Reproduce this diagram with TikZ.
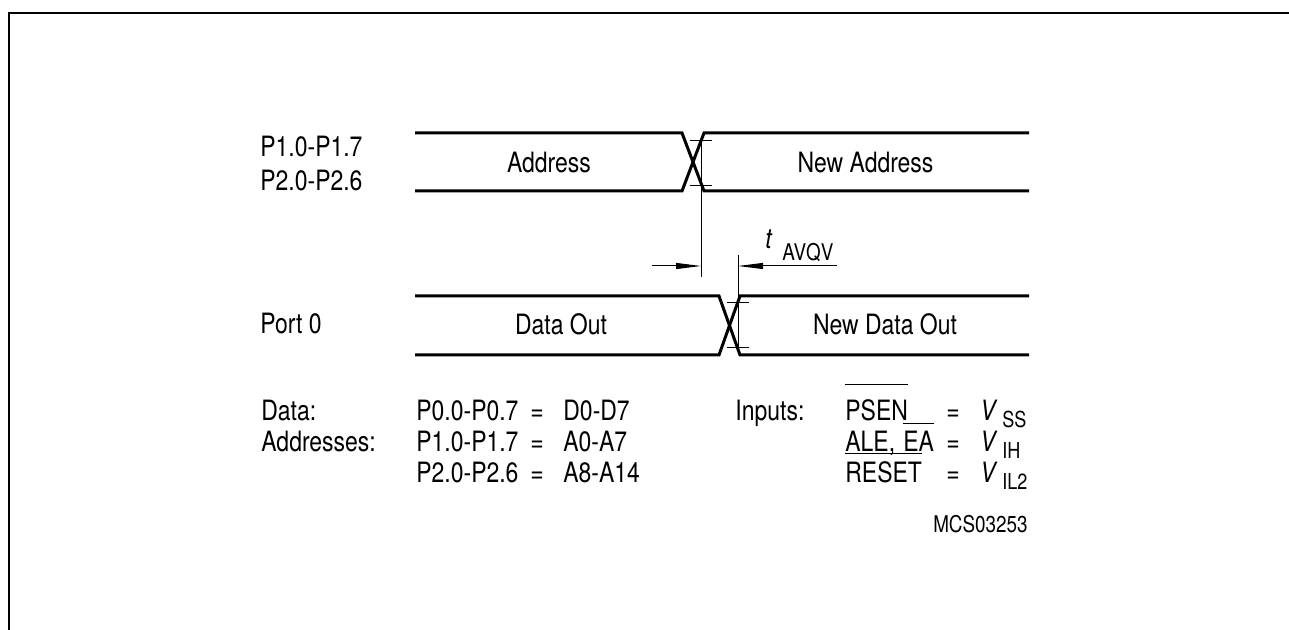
\documentclass[tikz,border=0pt]{standalone}
\usepackage{fontspec}
\setmainfont[FakeStretch=0.82]{TeX Gyre Heros}
\usetikzlibrary{arrows.meta}
\begin{document}
\begin{tikzpicture}[x=0.5pt,y=-0.5pt,
  bus/.style={line width=1.5pt, line join=miter},
  thinl/.style={line width=0.5pt},
  lbl/.style={inner sep=0pt, font=\fontsize{14}{16}\selectfont},
  sml/.style={inner sep=0pt, font=\fontsize{11.5}{13}\selectfont},
  sub/.style={inner sep=0pt, font=\fontsize{11}{13}\selectfont},
  dimarrow/.style={thinl, -{Triangle[length=12.5pt,width=3pt]}}]
\useasboundingbox (0,0) rectangle (1289,630);
% frame
\coordinate (fbl) at (8.5,630);
\coordinate (ftl) at (8.5,13.5);
\coordinate (ftr) at (1289,13.5);
\draw[line width=1pt] (fbl) -- (ftl) -- (ftr);

% bus 1 (P1/P2)
\coordinate (b1tl) at (415,133);  \coordinate (b1bl) at (415,191);
\coordinate (b1xt) at (682,133);  \coordinate (b1xb) at (682,191);
\coordinate (b1yt) at (704,133);  \coordinate (b1yb) at (704,191);
\coordinate (b1tr) at (1029,133); \coordinate (b1br) at (1029,191);
\draw[bus] (b1tl) -- (b1xt) -- (b1yb) -- (b1br);
\draw[bus] (b1bl) -- (b1xb) -- (b1yt) -- (b1tr);

% bus 2 (Port 0)
\coordinate (b2tl) at (415,296);  \coordinate (b2bl) at (415,355);
\coordinate (b2xt) at (719,296);  \coordinate (b2xb) at (719,355);
\coordinate (b2yt) at (740,296);  \coordinate (b2yb) at (740,355);
\coordinate (b2tr) at (1029,296); \coordinate (b2br) at (1029,355);
\draw[bus] (b2tl) -- (b2xt) -- (b2yb) -- (b2br);
\draw[bus] (b2bl) -- (b2xb) -- (b2yt) -- (b2tr);

% level ticks
\coordinate (t1a) at (690,140.5); \coordinate (t1b) at (712,140.5);
\coordinate (t2a) at (690,185.5); \coordinate (t2b) at (712,185.5);
\coordinate (t3a) at (727,302.5); \coordinate (t3b) at (749,302.5);
\coordinate (t4a) at (727,348);   \coordinate (t4b) at (749,348);
\draw[thinl] (t1a) -- (t1b);
\draw[thinl] (t2a) -- (t2b);
\draw[thinl] (t3a) -- (t3b);
\draw[thinl] (t4a) -- (t4b);

% reference verticals
\coordinate (v1t) at (701,140.5); \coordinate (v1b) at (701,277);
\coordinate (v2t) at (738,255);   \coordinate (v2b) at (738,348);
\draw[thinl] (v1t) -- (v1b);
\draw[thinl] (v2t) -- (v2b);

% dimension arrows
\coordinate (al) at (651.5,266); \coordinate (alt) at (701,266);
\coordinate (ar) at (837,266);   \coordinate (art) at (738,266);
\draw[dimarrow] (al) -- (alt);
\draw[dimarrow] (ar) -- (art);

% signal labels
\node[lbl, anchor=base west] (lp1) at (260,157) {P1.0-P1.7};
\node[lbl, anchor=base west] (lp2) at (260,191) {P2.0-P2.6};
\node[lbl, anchor=base west] (lp0) at (260,334) {Port 0};
\node[lbl, anchor=base] (addr) at (549,173) {Address};
\node[lbl, anchor=base] (naddr) at (865.5,173) {New Address};
\node[lbl, anchor=base] (dout) at (561,335) {Data Out};
\node[lbl, anchor=base] (ndout) at (885,335) {New Data Out};
\node[lbl, anchor=base west] (tt) at (765,249) {\itshape t};
\node[sml, anchor=base west] (tsub) at (782,261) {AVQV};

% legend left
\node[lbl, anchor=base west] (ldata) at (261,420) {Data:};
\node[lbl, anchor=base west] (laddr) at (261,451) {Addresses:};
\node[lbl, anchor=base west] (r1a) at (416,420) {P0.0-P0.7};
\node[lbl, anchor=base] (r1e) at (537,420) {=};
\node[lbl, anchor=base west] (r1b) at (563,420) {D0-D7};
\node[lbl, anchor=base west] (r2a) at (416,451) {P1.0-P1.7};
\node[lbl, anchor=base] (r2e) at (537,451) {=};
\node[lbl, anchor=base west] (r2b) at (563,451) {A0-A7};
\node[lbl, anchor=base west] (r3a) at (416,482) {P2.0-P2.6};
\node[lbl, anchor=base] (r3e) at (537,482) {=};
\node[lbl, anchor=base west] (r3b) at (563,482) {A8-A14};

% legend right
\node[lbl, anchor=base west] (linp) at (735,420) {Inputs:};
\node[lbl, anchor=base west] (s1a) at (845,420) {PSEN};
\node[lbl, anchor=base] (s1e) at (953,420) {=};
\node[lbl, anchor=base west] (s1v) at (980,420) {\itshape V};
\node[sub, anchor=base west] (s1s) at (1002,427) {SS};
\node[lbl, anchor=base west] (s2a) at (845,451) {ALE,};
\node[lbl, anchor=base west] (s2b) at (903,451) {EA};
\node[lbl, anchor=base] (s2e) at (953,451) {=};
\node[lbl, anchor=base west] (s2v) at (980,451) {\itshape V};
\node[sub, anchor=base west] (s2s) at (1002,458) {IH};
\node[lbl, anchor=base west] (s3a) at (845,482) {RESET};
\node[lbl, anchor=base] (s3e) at (953,482) {=};
\node[lbl, anchor=base west] (s3v) at (980,482) {\itshape V};
\node[sub, anchor=base west] (s3s) at (1002,489) {IL2};
% overlines (active-low signals)
\draw[thinl] ([yshift=7pt]s1a.north west) -- ([yshift=7pt]s1a.north east);
\draw[thinl] ([yshift=3.5pt]s2b.north west) -- ([yshift=3.5pt]s2b.north east);
\draw[thinl] ([yshift=3.5pt]s3a.north west) -- ([yshift=3.5pt]s3a.north east);

\node[sml, anchor=base east] (code) at (1028,532) {MCS03253};
\end{tikzpicture}
\end{document}
